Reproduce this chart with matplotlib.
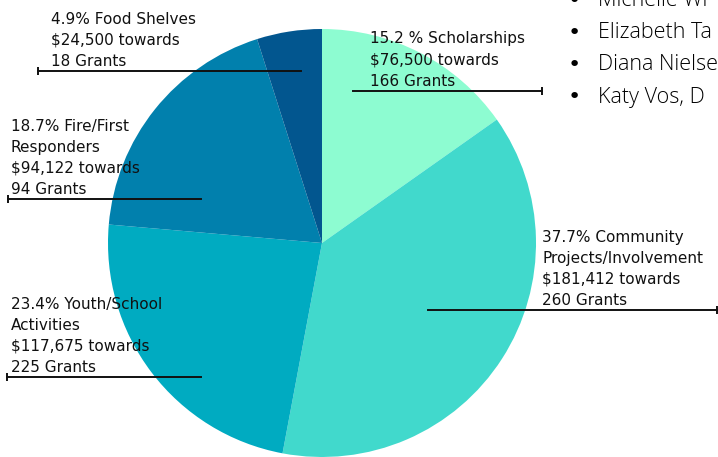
import matplotlib
matplotlib.use("Agg")
import matplotlib.pyplot as plt

# Data
categories = ["Scholarships", "Community Projects/Involvement", "Youth/School Activities",
              "Fire/First Responders", "Food Shelves"]
percents = [15.2, 37.7, 23.4, 18.7, 4.9]
amounts = ["$76,500", "$181,412", "$117,675", "$94,122", "$24,500"]
grants = [166, 260, 225, 94, 18]
colors = ["#8DFCD1", "#41D9CC", "#00ABC1", "#0180AD", "#02568F"]

# label text, split as on the slide
label_lines = [
    ["15.2 % Scholarships", "$76,500 towards", "166 Grants"],
    ["37.7% Community", "Projects/Involvement", "$181,412 towards", "260 Grants"],
    ["23.4% Youth/School", "Activities", "$117,675 towards", "225 Grants"],
    ["18.7% Fire/First", "Responders", "$94,122 towards", "94 Grants"],
    ["4.9% Food Shelves", "$24,500 towards", "18 Grants"],
]
bullets = ["Michelle Wi", "Elizabeth Ta", "Diana Nielse", "Katy Vos, D"]

W, H = 718, 457
fig = plt.figure(figsize=(W / 100, H / 100), dpi=100)

# pie: centre (322, 243) px, radius 214 px
cx, cy, r = 322, 243, 214
ax = fig.add_axes([(cx - r) / W, (H - cy - r) / H, 2 * r / W, 2 * r / H])
ax.pie(percents, colors=colors, startangle=90, counterclock=False,
       wedgeprops=dict(linewidth=0))
ax.set_xlim(-1, 1)
ax.set_ylim(-1, 1)
ax.set_aspect("auto")
ax.axis("off")


def px(x, y):
    return x / W, 1 - y / H


# label placement: text x, first line y, leader line y, x0, x1, tick side
layout = [
    (370, 39, 91, 353, 542, "right"),
    (542, 237, 310, 428, 717, "right"),
    (11, 304, 377, 7, 201, "left"),
    (11, 126, 199, 8, 201, "left"),
    (51, 19, 71, 38, 301, "left"),
]

for lines, (tx, ty, ly, x0, x1, side) in zip(label_lines, layout):
    for i, s in enumerate(lines):
        fig.text(*px(tx, ty + 21.2 * i), s, fontsize=11, color="#111111",
                 ha="left", va="center", family="DejaVu Sans")
    fx0, fy = px(x0, ly)
    fx1, _ = px(x1, ly)
    fig.add_artist(plt.Line2D([fx0, fx1], [fy, fy], transform=fig.transFigure,
                              color="#111111", linewidth=1.4))
    tick_x = fx0 if side == "left" else fx1
    fig.add_artist(plt.Line2D([tick_x], [fy], transform=fig.transFigure,
                              marker="|", markersize=6, markeredgewidth=1.4,
                              color="#111111"))

# partial bullet list from the slide (cut off by the slide edge)
for i, name in enumerate(bullets):
    by = 0.5 + 32.2 * i
    fig.text(*px(574, by), "\u2022", fontsize=16, color="#000000",
             ha="center", va="center")
    fig.text(*px(598, by), name, fontsize=15.5, color="#000000",
             ha="left", va="center", family="Open Sans", fontweight="light")

fig.savefig("out.png", dpi=100)
